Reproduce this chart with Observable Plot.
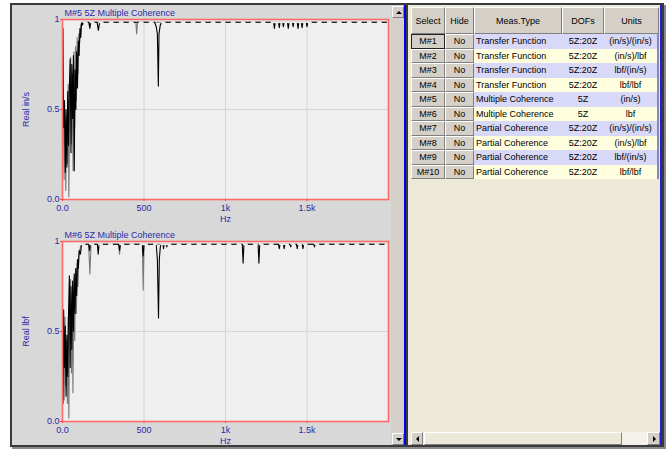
<!DOCTYPE html>
<html><head><meta charset="utf-8">
<script src="https://cdn.jsdelivr.net/npm/d3@7"></script>
<script src="https://cdn.jsdelivr.net/npm/@observablehq/plot@0.6"></script>
<style>
body{margin:0;background:#fff;width:669px;height:450px;position:relative;overflow:hidden;font-family:"Liberation Sans",Arial,sans-serif;}
.a{position:absolute;box-sizing:border-box;}
.btn{background:#d4d0c8;border-top:1px solid #fff;border-left:1px solid #fff;border-right:1px solid #808080;border-bottom:1px solid #808080;}
.cell{font-size:9px;color:#000;display:flex;align-items:center;white-space:nowrap;overflow:hidden;}
</style></head><body>
<div id="root"></div>
<script>
// ---------- data ----------
const flatLevel = 0.985;
const m5BlackHz = [0,3,7,12,17,22,27,32,37,42,47,52,57,62,67,72,77,82,87,92,97,102,107,112,117,122,130,150,163,168,173,212,220,228,565,575,582,588,592,600,608,1295,1300,1305,1325,1330,1335,1350,1355,1360,1380,1385,1390,1410,1415,1420,1440,1445,1450,1465,1470,1475,1495,1500,1505,2000];
const m5BlackVal = [0.42,0.95,0.40,0.55,0.15,0.50,0.18,0.60,0.30,0.62,0.78,0.26,0.75,0.45,0.80,0.16,0.72,0.50,0.82,0.62,0.88,0.80,0.95,0.90,0.98,0.97,0.985,0.985,0.985,0.95,0.985,0.985,0.94,0.985,0.985,0.96,0.92,0.63,0.92,0.97,0.985,0.985,0.95,0.985,0.985,0.955,0.985,0.985,0.96,0.985,0.985,0.95,0.985,0.985,0.96,0.985,0.985,0.95,0.985,0.985,0.955,0.985,0.985,0.96,0.985,0.985];
const m5GrayHz = [0,5,10,15,20,25,30,35,39,44,50,55,60,65,70,75,80,85,90,95,100,105,112,120,160,165,170,450,455,460,2000];
const m5GrayVal = [0.55,0.59,0.11,0.50,0.05,0.45,0.20,0.64,0.015,0.55,0.79,0.31,0.70,0.16,0.82,0.40,0.85,0.55,0.90,0.70,0.92,0.87,0.97,0.985,0.985,0.96,0.985,0.985,0.92,0.985,0.985];
const m6BlackHz = [0,3,7,12,17,22,27,32,37,42,47,52,57,62,67,72,77,82,87,92,97,102,110,117,161,166,171,214,219,224,345,350,355,490,495,500,575,582,589,594,600,606,616,620,624,636,640,644,1103,1108,1113,1200,1205,1210,1325,1330,1335,1355,1360,1365,1395,1400,1405,1435,1440,1445,1470,1475,1480,1541,1546,1551,2000];
const m6BlackVal = [0.66,0.10,0.62,0.30,0.53,0.14,0.48,0.25,0.60,0.81,0.30,0.75,0.40,0.78,0.50,0.82,0.60,0.85,0.70,0.90,0.85,0.95,0.93,0.985,0.985,0.95,0.985,0.985,0.93,0.985,0.985,0.95,0.985,0.985,0.92,0.985,0.985,0.90,0.575,0.90,0.97,0.985,0.985,0.96,0.985,0.985,0.97,0.985,0.985,0.88,0.985,0.985,0.88,0.985,0.985,0.96,0.985,0.985,0.96,0.985,0.985,0.97,0.985,0.985,0.96,0.985,0.985,0.96,0.985,0.985,0.97,0.985,0.985];
const m6GrayHz = [0,5,10,15,20,25,30,35,39,44,50,55,60,64,70,75,80,85,90,95,100,110,120,160,168,175,345,350,356,490,495,500,2000];
const m6GrayVal = [0.10,0.56,0.12,0.58,0.20,0.45,0.10,0.58,0.02,0.70,0.79,0.27,0.72,0.16,0.80,0.45,0.85,0.60,0.88,0.75,0.92,0.97,0.985,0.985,0.82,0.985,0.985,0.93,0.985,0.985,0.73,0.985,0.985];
const xTicks = [0, 500, 1000, 1500];
const xTickLabels = ["0.0", "500", "1k", "1.5k"];
const yTicks = [0, 0.5, 1];
const yTickLabels = ["0.0", "0.5", "1"];
const plotTitles = ["M#5 5Z Multiple Coherence", "M#6 5Z Multiple Coherence"];
const yLabels = ["Real in/s", "Real lbf"];
const xLabel = "Hz";
const headers = ["Select", "Hide", "Meas.Type", "DOFs", "Units"];
const selectLabels = ["M#1","M#2","M#3","M#4","M#5","M#6","M#7","M#8","M#9","M#10"];
const hideLabels = ["No","No","No","No","No","No","No","No","No","No"];
const measTypes = ["Transfer Function","Transfer Function","Transfer Function","Transfer Function","Multiple Coherence","Multiple Coherence","Partial Coherence","Partial Coherence","Partial Coherence","Partial Coherence"];
const dofs = ["5Z:20Z","5Z:20Z","5Z:20Z","5Z:20Z","5Z","5Z","5Z:20Z","5Z:20Z","5Z:20Z","5Z:20Z"];
const units = ["(in/s)/(in/s)","(in/s)/lbf","lbf/(in/s)","lbf/lbf","(in/s)","lbf","(in/s)/(in/s)","(in/s)/lbf","lbf/(in/s)","lbf/lbf"];

// ---------- layout helpers ----------
const root = document.getElementById("root");
function box(x, y, w, h, style = "", cls = "a") {
  const d = document.createElement("div");
  d.className = cls;
  d.style.cssText = `left:${x}px;top:${y}px;width:${w}px;height:${h}px;${style}`;
  root.appendChild(d);
  return d;
}

// window frame
box(10, 3, 654, 444, "background:#3a3a3a;box-shadow:2px 2px 0 #8a8a8a;");
box(12, 5, 379, 440, "background:#d8d8d8;");
// vertical scrollbar
box(391, 5, 13, 440, "background:#d4d0c8;");
const upB = box(392, 6, 12, 12, "", "a btn");
const dnB = box(392, 433, 12, 12, "", "a btn");
upB.innerHTML = '<div style="position:absolute;left:3px;top:4px;width:0;height:0;border-left:3px solid transparent;border-right:3px solid transparent;border-bottom:3px solid #000"></div>';
dnB.innerHTML = '<div style="position:absolute;left:3px;top:4px;width:0;height:0;border-left:3px solid transparent;border-right:3px solid transparent;border-top:3px solid #000"></div>';
// blue separator
box(404, 5, 2, 440, "background:#0000ee;");
// table area
box(407.5, 5, 253, 440, "background:#ece9d8;");
box(660, 5, 2, 440, "background:#2020d0;");

// ---------- plots ----------
function coherencePlot(bHz, bVal, gHz, gVal, title, ylab) {
  const black = bHz.map((f, i) => ({f, v: bVal[i]}));
  const gray = gHz.map((f, i) => ({f, v: gVal[i]}));
  const txt = "#2a2aa8";
  const bg = "#efefef";
  return Plot.plot({
    width: 380, height: 219,
    marginLeft: 50, marginRight: 4, marginTop: 15, marginBottom: 24,
    style: {background: "transparent", fontFamily: "'Liberation Sans', Arial, sans-serif", fontSize: "9px", color: txt, overflow: "visible"},
    x: {domain: [0, 2000]},
    y: {domain: [0, 1]},
    marks: [
      Plot.frame({fill: bg}),
      Plot.gridX(xTicks.slice(1), {stroke: "#d6d6d6", strokeOpacity: 1}),
      Plot.gridY([0.5], {stroke: "#d6d6d6", strokeOpacity: 1}),
      Plot.line(gray, {x: "f", y: "v", stroke: "#777", strokeWidth: 1.1, clip: true}),
      Plot.line(black, {x: "f", y: "v", stroke: "#000", strokeWidth: 1.1, clip: true}),
      // gaps in the flat (saturated) stretches, as in the reference's dashed look
      Plot.line(black, {x: "f", y: d => d.v >= flatLevel ? d.v : NaN, stroke: bg, strokeWidth: 2, strokeDasharray: "3,7", clip: true}),
      Plot.frame({stroke: "#ff6a6a", strokeWidth: 1.6}),
      Plot.axisX(xTicks, {tickFormat: (d, i) => xTickLabels[i], tickSize: 2, tickPadding: 3, stroke: "#ff4040", fill: txt,
        label: xLabel, labelAnchor: "center", labelArrow: "none", labelOffset: 22}),
      Plot.axisY(yTicks, {tickFormat: (d, i) => yTickLabels[i], tickSize: 2, tickPadding: 1, stroke: "#ff4040", fill: txt,
        label: ylab, labelAnchor: "center", labelArrow: "none", labelOffset: 40}),
      Plot.text([title], {text: d => d, frameAnchor: "top-left", textAnchor: "start", dx: 2, dy: -10, fill: txt})
    ]
  });
}
const p1 = coherencePlot(m5BlackHz, m5BlackVal, m5GrayHz, m5GrayVal, plotTitles[0], yLabels[0]);
const p2 = coherencePlot(m6BlackHz, m6BlackVal, m6GrayHz, m6GrayVal, plotTitles[1], yLabels[1]);
[p1, p2].forEach((p, i) => {
  p.style.position = "absolute";
  p.style.left = "12px";
  p.style.top = (i === 0 ? 4 : 226) + "px";
  root.appendChild(p);
});

// ---------- table ----------
const colX = [411, 445, 474, 562, 604];
const colW = [34, 29, 88, 42, 55];
headers.forEach((h, j) => {
  const c = box(colX[j], 7, colW[j], 27, "justify-content:center;", "a btn cell");
  c.textContent = h;
});
const rowH = 14.5;
selectLabels.forEach((s, i) => {
  const y = 34 + i * rowH;
  const bg = i % 2 === 0 ? "#d8d8f8" : "#ffffe0";
  const sel = box(colX[0], y, colW[0], rowH, "justify-content:center;" + (i === 0 ? "outline:1px solid #222;outline-offset:-1px;" : ""), "a btn cell");
  sel.textContent = s;
  const hd = box(colX[1], y, colW[1], rowH, "justify-content:center;", "a btn cell");
  hd.textContent = hideLabels[i];
  const mt = box(colX[2], y, colW[2], rowH, `background:${bg};padding-left:2px;`, "a cell");
  mt.textContent = measTypes[i];
  const df = box(colX[3], y, colW[3], rowH, `background:${bg};justify-content:center;`, "a cell");
  df.textContent = dofs[i];
  const un = box(colX[4], y, colW[4], rowH, `background:${bg};justify-content:center;border-right:2px solid #8888bb;`, "a cell");
  un.textContent = units[i];
});
// horizontal scrollbar
box(411, 432, 249, 13, "background:#f3f1ea;");
const lB = box(411, 432, 12, 13, "", "a btn");
lB.innerHTML = '<div style="position:absolute;left:4px;top:3px;width:0;height:0;border-top:3px solid transparent;border-bottom:3px solid transparent;border-right:3px solid #000"></div>';
box(424, 432, 198, 13, "background:#ece9d8;", "a btn");
const rB = box(647, 432, 13, 13, "", "a btn");
rB.innerHTML = '<div style="position:absolute;left:5px;top:3px;width:0;height:0;border-top:3px solid transparent;border-bottom:3px solid transparent;border-left:3px solid #000"></div>';
</script>
</body></html>
